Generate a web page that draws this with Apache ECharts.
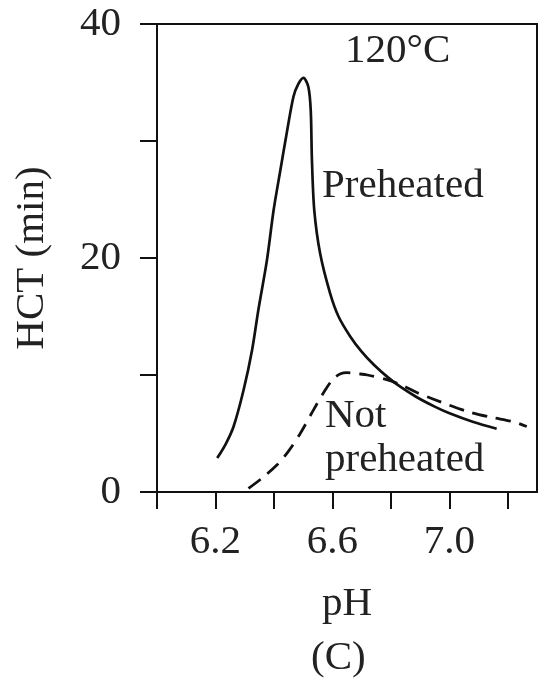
<!DOCTYPE html>
<html>
<head>
<meta charset="utf-8">
<script src="https://cdn.jsdelivr.net/npm/echarts@6/dist/echarts.min.js"></script>
<style>html,body{margin:0;padding:0;background:#fff}#c{width:545px;height:681px}</style>
</head>
<body>
<div id="c"></div>
<script>
var preheatedPH  = [6.206, 6.235, 6.262, 6.296, 6.325, 6.347, 6.376, 6.399, 6.422, 6.444, 6.467, 6.484, 6.501, 6.518, 6.526, 6.530, 6.538, 6.558, 6.592, 6.621, 6.661, 6.70, 6.741, 6.79, 6.832, 6.889, 6.95, 7.003, 7.08, 7.162];
var preheatedHCT = [2.9, 4.1, 5.6, 8.7, 12.1, 15.6, 19.8, 24.1, 27.5, 30.7, 33.8, 34.9, 35.4, 34.6, 32.6, 28.4, 24.1, 20.4, 17.0, 15.0, 13.3, 12.0, 10.9, 9.8, 9.0, 8.1, 7.3, 6.7, 6.0, 5.4];
var notPreheatedPH  = [6.313, 6.36, 6.41, 6.45, 6.49, 6.535, 6.575, 6.604, 6.628, 6.65, 6.69, 6.72, 6.786, 6.84, 6.889, 6.97, 7.06, 7.14, 7.22, 7.265];
var notPreheatedHCT = [0.3, 1.2, 2.3, 3.5, 5.0, 7.0, 8.7, 9.7, 10.1, 10.2, 10.1, 10.0, 9.6, 9.1, 8.5, 7.7, 6.9, 6.4, 6.0, 5.6];
var xTicks = [6.0, 6.2, 6.4, 6.6, 6.8, 7.0, 7.2];
var xTickLabels = [6.2, 6.6, 7.0];
var yTicks = [0, 10, 20, 30, 40];
var yTickLabels = [0, 20, 40];

function pairs(xs, ys){ return xs.map(function(x,i){ return [x, ys[i]]; }); }
var FONT = 'Liberation Serif';
var FS = 41;
var chart = echarts.init(document.getElementById('c'));
chart.setOption({
  animation: false,
  backgroundColor: '#fff',
  grid: {left: 157, right: 8, top: 24, bottom: 189, show: true, borderColor: '#111', borderWidth: 2,
         backgroundColor: 'transparent', containLabel: false, outerBoundsMode: 'none'},
  xAxis: {
    type: 'value', min: 6.0, max: 7.3,
    name: 'pH', nameLocation: 'middle', nameGap: 92,
    nameTextStyle: {fontFamily: FONT, fontSize: FS, color: '#222'},
    axisLine: {show: true, lineStyle: {color: '#111', width: 2}},
    axisTick: {show: true, inside: false, length: 17, customValues: xTicks, lineStyle: {color: '#111', width: 2}},
    axisLabel: {customValues: xTickLabels, margin: 30, fontFamily: FONT, fontSize: FS, color: '#222',
      formatter: function(v){ return v.toFixed(1); }},
    splitLine: {show: false}
  },
  yAxis: {
    type: 'value', min: 0, max: 40,
    name: 'HCT (min)', nameLocation: 'middle', nameGap: 104, nameRotate: 90,
    nameTextStyle: {fontFamily: FONT, fontSize: FS, color: '#222'},
    axisLine: {show: true, lineStyle: {color: '#111', width: 2}},
    axisTick: {show: true, inside: false, length: 17, customValues: yTicks, lineStyle: {color: '#111', width: 2}},
    axisLabel: {customValues: yTickLabels, margin: 36, fontFamily: FONT, fontSize: FS, color: '#222'},
    splitLine: {show: false}
  },
  series: [
    {type: 'line', name: 'Preheated', data: pairs(preheatedPH, preheatedHCT), smooth: 0.3, showSymbol: false,
     lineStyle: {color: '#111', width: 2.7}},
    {type: 'line', name: 'Not preheated', data: pairs(notPreheatedPH, notPreheatedHCT), smooth: 0.3, showSymbol: false,
     lineStyle: {color: '#111', width: 2.8, type: [15, 9]}}
  ],
  graphic: [
    {type: 'text', left: 345, top: 31, style: {text: '120°C', fontFamily: FONT, fontSize: FS, fill: '#222'}},
    {type: 'text', left: 322, top: 166, style: {text: 'Preheated', fontFamily: FONT, fontSize: FS, fill: '#222'}},
    {type: 'text', left: 325, top: 396, style: {text: 'Not', fontFamily: FONT, fontSize: FS, fill: '#222'}},
    {type: 'text', left: 325, top: 440, style: {text: 'preheated', fontFamily: FONT, fontSize: FS, fill: '#222'}},
    {type: 'text', left: 311, top: 638, style: {text: '(C)', fontFamily: FONT, fontSize: FS, fill: '#222'}}
  ]
});
</script>
</body>
</html>
